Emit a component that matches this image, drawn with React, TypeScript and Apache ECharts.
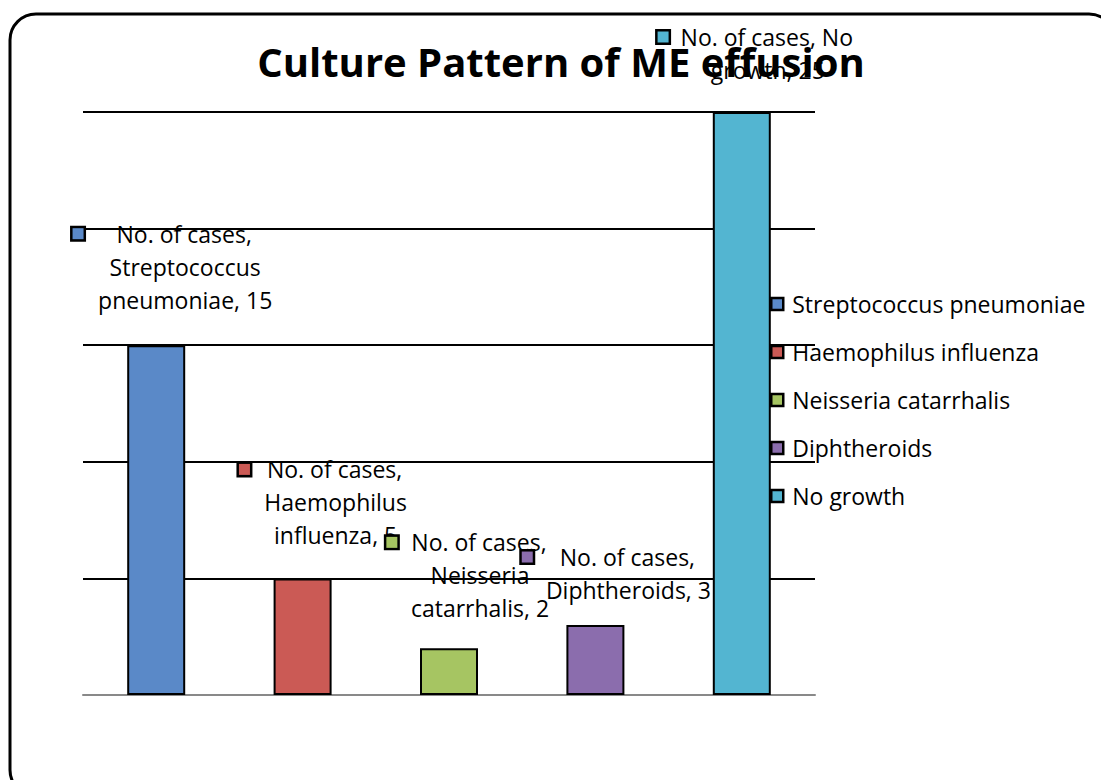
import React, { useEffect, useRef } from "react";
import * as echarts from "echarts";

const titleText = "Culture Pattern of ME effusion";
const seriesName = "No. of cases";
const categories = [
  "Streptococcus pneumoniae",
  "Haemophilus influenza",
  "Neisseria catarrhalis",
  "Diphtheroids",
  "No growth",
];
const values = [15, 5, 2, 3, 25];
const colors = ["#5A89C8", "#CB5A55", "#A6C562", "#8B6DAD", "#53B5D1"];
// wrapped label lines (value appended to last line)
const labelLines = [
  ["No. of cases,", "Streptococcus", "pneumoniae,"],
  ["No. of cases,", "Haemophilus", "influenza,"],
  ["No. of cases,", "Neisseria", "catarrhalis,"],
  ["No. of cases,", "Diphtheroids,"],
  ["No. of cases, No", "growth,"],
];
const yTicks = [0, 5, 10, 15, 20, 25];

// layout only
const labelPos = [
  [58, -128],
  [62, -125.5],
  [60, -122.5],
  [62, -84.5],
  [55, -91.5],
];
const markerGap = [33, 17, 14, 27, 12];

const FONT = "'Open Sans', sans-serif";
const FS = 23;

export default function App() {
  const ref = useRef<HTMLDivElement>(null);
  useEffect(() => {
    document.body.style.margin = "0";
    const chart = echarts.init(ref.current!, null, { renderer: "svg" });
    const series = categories.map((c, i) => ({
      name: c,
      type: "bar",
      barWidth: 58,
      barGap: "-100%",
      data: values.map((v, j) => (j === i ? v : "-")),
      itemStyle: { color: colors[i], borderColor: "#000", borderWidth: 2 },
      label: {
        show: true,
        position: labelPos[i],
        align: "center",
        verticalAlign: "top",
        fontFamily: FONT,
        fontSize: FS,
        lineHeight: 33,
        color: "#000",
        formatter: (p: any) => {
          const lines = labelLines[i].slice();
          lines[lines.length - 1] = lines[lines.length - 1] + " " + p.value;
          lines[0] = `{sq| }{gap| }${lines[0]}{pad| }`;
          return lines.join("\n");
        },
        rich: {
          sq: {
            width: 11,
            height: 11,
            backgroundColor: colors[i],
            borderColor: "#000",
            borderWidth: 2.5,
            lineHeight: 33,
          },
          gap: { width: markerGap[i], lineHeight: 33 },
          pad: { width: markerGap[i] + 13, lineHeight: 33 },
        },
      },
    }));
    chart.setOption({
      animation: false,
      backgroundColor: "#fff",
      title: {
        text: titleText,
        left: 556,
        top: 36,
        textAlign: "center",
        textStyle: { fontFamily: FONT, fontSize: 40, fontWeight: "bold", color: "#000" },
      },
      legend: {
        orient: "vertical",
        left: 770,
        top: 292,
        padding: 0,
        itemWidth: 12,
        itemHeight: 12,
        itemGap: 24,
        icon: "rect",
        itemStyle: { borderColor: "#000", borderWidth: 2.5 },
        textStyle: { fontFamily: FONT, fontSize: FS, color: "#000", lineHeight: 24, padding: [0, 0, 0, 4] },
        data: categories,
      },
      grid: { left: 83, right: 286, top: 112, bottom: 85 },
      xAxis: {
        type: "category",
        data: categories,
        axisLabel: { show: false },
        axisTick: { show: false },
        axisLine: { lineStyle: { color: "#898989", width: 2 } },
      },
      yAxis: {
        type: "value",
        min: yTicks[0],
        max: yTicks[yTicks.length - 1],
        interval: yTicks[1] - yTicks[0],
        axisLabel: { show: false },
        axisTick: { show: false },
        axisLine: { show: false },
        splitLine: { lineStyle: { color: "#000", width: 2 } },
      },
      graphic: [
        {
          type: "rect",
          shape: { x: 10, y: 14, width: 1105, height: 782, r: 26 },
          style: { fill: "none", stroke: "#000", lineWidth: 3 },
          z: -10,
          silent: true,
        },
      ],
      series,
    });
    return () => chart.dispose();
  }, []);
  return (
    <div
      ref={ref}
      style={{ position: "fixed", left: 0, top: 0, width: 1101, height: 780 }}
    />
  );
}
